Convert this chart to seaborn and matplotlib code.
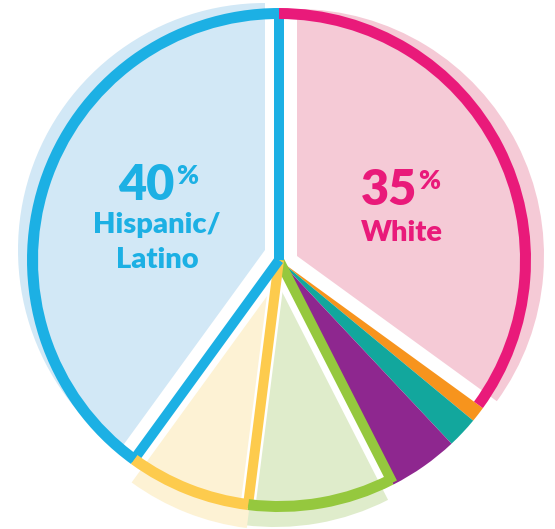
import numpy as np
import matplotlib
matplotlib.use("Agg")
import matplotlib.pyplot as plt
import seaborn as sns

# ---- data ----
categories = ["White", "Group 2", "Group 3", "Group 4", "Group 5", "Group 6", "Hispanic/Latino"]
shares = [35, 1, 2, 4.5, 9.5, 8, 40]
strong_colors = ["#E91A7A", "#F7941D", "#12A79D", "#8E278F", "#95C83E", "#FDCB4D", "#1CB0E4"]
light_colors = ["#F5CAD6", None, None, None, "#DFECCB", "#FDF2D4", "#D2E8F6"]
pct_labels = ["35", "40"]
name_labels = ["White", "Hispanic/\nLatino"]

sns.set_theme(style="white")
plt.rcParams['font.family'] = ['Lato', 'DejaVu Sans']

W, H = 555, 529
fig = plt.figure(figsize=(W / 100, H / 100), dpi=100)
ax = fig.add_axes([0, 0, 1, 1])

C = (279, 269)
R = 252
RING = 11
PX = 0.72  # px -> pt
n = len(shares)
pie_kw = dict(startangle=90, counterclock=False)

# light (shifted) fills: slice index -> (dx, dy, radius)
light_layout = {0: (18, 4, 247), 4: (-4, -18, 249), 5: (-1, -21, 249), 6: (-14, 10, 247)}
for i, (dx, dy, r) in light_layout.items():
    cols = ['none'] * n
    cols[i] = light_colors[i]
    ax.pie(shares, colors=cols, center=(C[0] + dx, C[1] + dy), radius=r,
           wedgeprops=dict(linewidth=0, zorder=1), **pie_kw)

# small solid slices
cols = [strong_colors[i] if light_colors[i] is None else 'none' for i in range(n)]
ax.pie(shares, colors=cols, center=C, radius=R, wedgeprops=dict(linewidth=0, zorder=2), **pie_kw)

# radial borders (cumulative boundary index, colour index, white underlay)
cum = np.concatenate([[0], np.cumsum(shares)]) / np.sum(shares)
border_spec = [(4, 4, False), (5, 5, True), (6, 6, False), (7, 6, False)]
for b, ci, under in border_spec:
    phi = np.deg2rad(90 - 360 * cum[b])
    xs = [C[0], C[0] + (R - 2) * np.cos(phi)]
    ys = [C[1], C[1] + (R - 2) * np.sin(phi)]
    if under:
        ax.plot(xs, ys, color='white', lw=15 * PX, solid_capstyle='butt', zorder=3)
    ax.plot(xs, ys, color=strong_colors[ci], lw=10 * PX, solid_capstyle='butt', zorder=4)

# outer arcs
cols = [strong_colors[i] if light_colors[i] is not None else 'none' for i in range(n)]
ax.pie(shares, colors=cols, center=C, radius=R,
       wedgeprops=dict(width=RING, linewidth=0, zorder=5), **pie_kw)

# labels
def big_label(x_right, y_base, pct, name, name_y, name_x, color):
    ax.text(x_right, y_base, pct, ha='right', va='baseline', fontsize=35,
            fontweight='heavy', color=color, zorder=6)
    ax.text(x_right + 1, y_base + 36, "%", ha='left', va='top', fontsize=19,
            fontweight='heavy', color=color, zorder=6)
    ax.text(name_x, name_y, name, ha='center', va='baseline', fontsize=21,
            fontweight='heavy', color=color, linespacing=1.45, zorder=6)

big_label(417, H - 205, pct_labels[0], name_labels[0], H - 241, 402, strong_colors[0])
big_label(175, H - 200, pct_labels[1], name_labels[1], H - 268, 157, strong_colors[6])

ax.set_xlim(0, W)
ax.set_ylim(0, H)
ax.set_aspect('equal')
ax.axis('off')
fig.savefig("out.png", dpi=100)
